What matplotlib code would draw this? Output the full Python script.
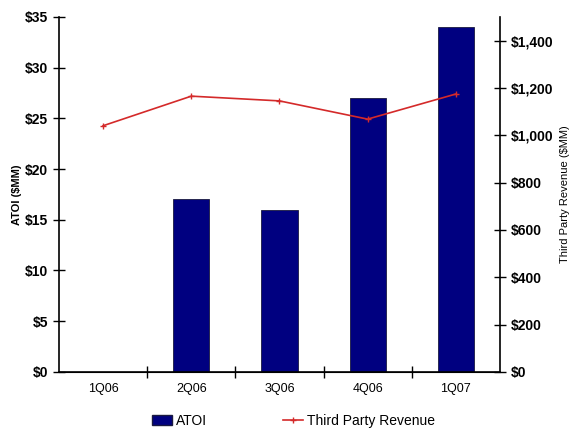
import numpy as np
import matplotlib.pyplot as plt
from matplotlib.lines import Line2D
from matplotlib.patches import Patch

plt.rcParams['font.family'] = ['Liberation Sans', 'DejaVu Sans']

quarters = ['1Q06', '2Q06', '3Q06', '4Q06', '1Q07']
atoi = [0, 17, 16, 27, 34]
revenue = [1040, 1165, 1145, 1068, 1174]

fig = plt.figure(figsize=(5.7, 4.32), dpi=100)
ax = fig.add_axes([0.1035, 0.139, 0.7735, 0.822])
x = np.arange(len(quarters))

ax.bar(x, atoi, width=0.41, color='#000080', edgecolor='#1a1a40', linewidth=0.6, zorder=2)
ax.set_xlim(-0.5, 4.5)
ax.set_ylim(0, 35)
ax.set_yticks(np.arange(0, 36, 5))
ax.set_yticklabels(['$%d' % v for v in range(0, 36, 5)], fontsize=10, fontweight='bold')
ax.set_xticks(np.arange(0.5, 4.5, 1))
ax.set_xticklabels([])
ax.set_xticks(x, minor=True)
ax.set_xticklabels(quarters, minor=True, fontsize=9)
ax.tick_params(axis='x', which='minor', length=0, pad=8)
ax.tick_params(axis='x', which='major', direction='inout', length=8, width=1)
ax.tick_params(axis='y', direction='inout', length=8, width=1, pad=4)
ax.spines['top'].set_visible(False)
ax.spines['right'].set_visible(False)
ax.set_ylabel('ATOI ($MM)', fontsize=8, fontweight='bold')
ax.yaxis.set_label_coords(-0.085, 0.5)

ax2 = ax.twinx()
ax2.plot(x, revenue, color='#d42a2a', linewidth=1.2, marker='+', markersize=5, zorder=3)
ax2.set_ylim(0, 1500)
ticks2 = np.arange(0, 1401, 200)
ax2.set_yticks(ticks2)
ax2.set_yticklabels(['${:,}'.format(v) for v in ticks2], fontsize=10, fontweight='bold')
ax2.tick_params(axis='y', direction='inout', length=8, width=1, pad=4)
ax2.spines['top'].set_visible(False)
ax2.spines['left'].set_visible(False)
ax2.set_ylabel('Third Party Revenue ($MM)', fontsize=8, rotation=90)
ax2.yaxis.set_label_coords(1.136, 0.5)

for s in ['left', 'bottom']:
    ax.spines[s].set_linewidth(1.2)
ax2.spines['right'].set_linewidth(1.2)

handles = [Patch(facecolor='#000080', edgecolor='#1a1a40'),
           Line2D([0], [0], color='#d42a2a', marker='+', markersize=5, linewidth=1.2)]
fig.legend(handles, ['ATOI', 'Third Party Revenue'], loc='center', bbox_to_anchor=(0.515, 0.025),
           ncol=2, frameon=False, fontsize=10, columnspacing=5.5, handlelength=1.4, handletextpad=0.3)

fig.savefig('out.png', dpi=100)
